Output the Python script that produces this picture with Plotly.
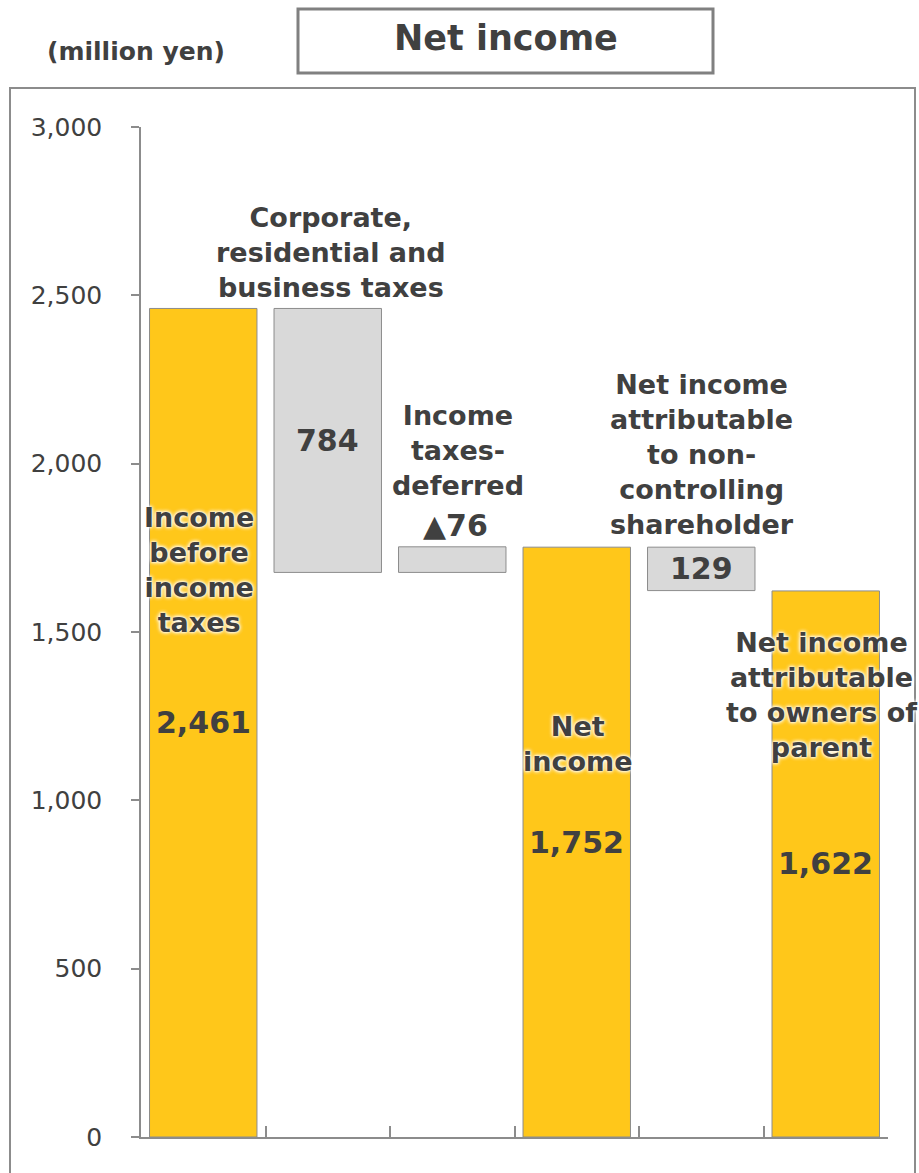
import plotly.graph_objects as go

# Waterfall from income before taxes down to net income attributable to owners
categories = ["pretax", "corp_tax", "deferred_tax", "net_income", "non_ctrl", "owners"]
values = [2461, 784, 76, 1752, 129, 1622]
value_labels = ["2,461", "784", "▲76", "1,752", "129", "1,622"]
category_labels = [
    "Income<br>before<br>income<br>taxes",
    "Corporate,<br>residential and<br>business taxes",
    "Income<br>taxes-<br>deferred",
    "Net<br>income",
    "Net income<br>attributable<br>to non-<br>controlling<br>shareholder",
    "Net income<br>attributable<br>to owners of<br>parent",
]
kinds = ["total", "down", "up", "total", "down", "total"]
y_ticks = [0, 500, 1000, 1500, 2000, 2500, 3000]

# floating bases for the waterfall steps
bases = []
for i, (v, k) in enumerate(zip(values, kinds)):
    if k == "total":
        bases.append(0)
    elif k == "down":
        prev_top = bases[i - 1] + values[i - 1]
        bases.append(prev_top - v)
    else:
        bases.append(bases[i - 1])

YELLOW = "#FFC71A"
GRAY_FILL = "#D9D9D9"
EDGE = "#8C8C8C"
TEXT = "#404040"
FONT = "DejaVu Sans"

colors = [YELLOW if k == "total" else GRAY_FILL for k in kinds]

fig = go.Figure(
    go.Bar(
        x=categories,
        y=values,
        base=bases,
        marker=dict(color=colors, line=dict(color=EDGE, width=1)),
        hoverinfo="skip",
    )
)

glow = "0 0 4px #fff, 0 0 4px #fff, 0 0 2px #fff"

annotations = []
# category label placement: (y value, x pixel shift, glow)
label_pos = [
    (1685, -4, True),
    (2626, 3, False),
    (2038, 6, False),
    (1168, 1, True),
    (2026, 1, False),
    (1313, -4, True),
]
for cat, lab, (yv, dx, g) in zip(categories, category_labels, label_pos):
    annotations.append(dict(
        x=cat, y=yv, xref="x", yref="y", text=lab, showarrow=False,
        xshift=dx, yanchor="middle", xanchor="center", align="center",
        font=dict(family=FONT, size=27, color=TEXT, weight="bold",
                  shadow=glow if g else "none"),
    ))

# value labels
for i, (cat, vl, k) in enumerate(zip(categories, value_labels, kinds)):
    if k == "up":
        yv = bases[i] + values[i]
        yshift, yanchor = 2, "bottom"
    else:
        yv = bases[i] + values[i] / 2
        yshift, yanchor = 0, "middle"
    annotations.append(dict(
        x=cat, y=yv, xref="x", yref="y", text=vl, showarrow=False,
        yshift=yshift, yanchor=yanchor, xanchor="center",
        xshift=3 if k == "up" else 0,
        font=dict(family=FONT, size=30, color=TEXT, weight="bold"),
    ))

W, H = 919, 1173
ML, MR, MT, MB = 141, 31, 127, 36
PW, PH = W - ML - MR, H - MT - MB


def px_x(p):
    return (p - ML) / PW


def px_y(p):
    return (H - MB - p) / PH


# unit label and chart title
annotations.append(dict(
    x=px_x(136), y=px_y(52), xref="paper", yref="paper", showarrow=False,
    text="(million yen)", xanchor="center", yanchor="middle",
    font=dict(family=FONT, size=25, color=TEXT, weight="bold"),
))
annotations.append(dict(
    x=px_x(506), y=px_y(38), xref="paper", yref="paper", showarrow=False,
    text="Net income", xanchor="center", yanchor="middle",
    font=dict(family=FONT, size=35, color=TEXT, weight="bold"),
))

shapes = [
    # outer frame
    dict(type="rect", xref="paper", yref="paper",
         x0=px_x(10), x1=px_x(915), y0=px_y(1190), y1=px_y(88),
         line=dict(color="#8C8C8C", width=2), fillcolor="rgba(0,0,0,0)", layer="below"),
    # title box
    dict(type="rect", xref="paper", yref="paper",
         x0=px_x(298), x1=px_x(713), y0=px_y(73), y1=px_y(9),
         line=dict(color="#808080", width=3), fillcolor="white", layer="below"),
]

fig.update_layout(
    width=W, height=H,
    margin=dict(l=ML, r=MR, t=MT, b=MB, pad=0),
    paper_bgcolor="white", plot_bgcolor="white",
    showlegend=False,
    bargap=0.137,
    annotations=annotations,
    shapes=shapes,
    xaxis=dict(
        type="category", categoryorder="array", categoryarray=categories,
        range=[-0.5, len(categories) - 0.5], autorange=False,
        showticklabels=False, showgrid=False, zeroline=False,
        showline=True, linecolor="#8C8C8C", linewidth=2,
        ticks="inside", tickson="boundaries", ticklen=11,
        tickcolor="#8C8C8C", tickwidth=1.5,
    ),
    yaxis=dict(
        range=[0, 3000], autorange=False, tickvals=y_ticks,
        ticktext=[f"{v:,}" for v in y_ticks],
        showgrid=False, zeroline=False,
        showline=True, linecolor="#8C8C8C", linewidth=1.5,
        ticks="outside", ticklen=8, tickcolor="#8C8C8C", tickwidth=1.5,
        ticklabelstandoff=24,
        tickfont=dict(family=FONT, size=25, color=TEXT),
    ),
)

fig.write_html("out.html")
